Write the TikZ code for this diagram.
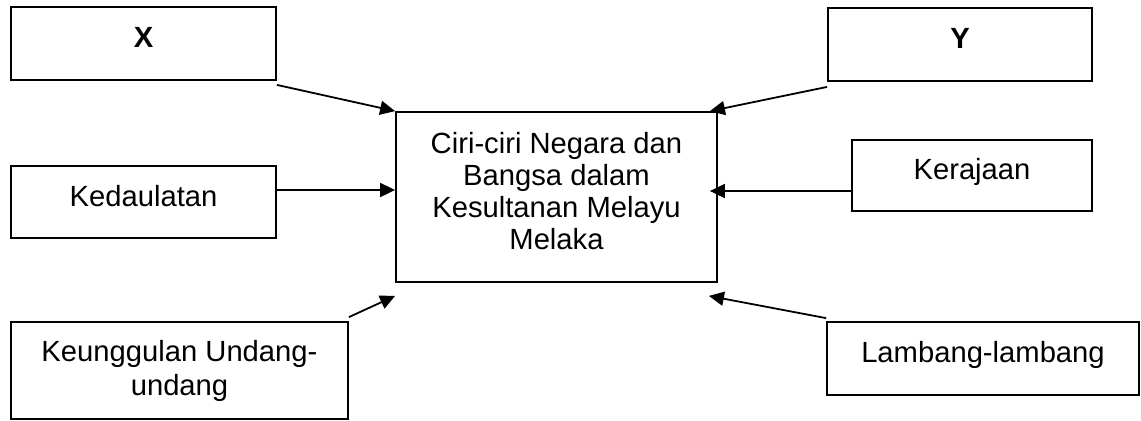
\documentclass[tikz,border=0pt]{standalone}
\usepackage{fontspec}
\setmainfont{Liberation Sans}
\usetikzlibrary{arrows.meta}

\begin{document}
\begin{tikzpicture}[x=0.5pt, y=-0.5pt,
		box/.style={draw, line width=0.9pt, inner sep=0pt, align=center, font=\fontsize{14.6pt}{16pt}\selectfont},
		oneline/.style={text height=10.5pt, text depth=6.5pt},
		bold/.style={font=\fontsize{14.6pt}{16pt}\selectfont\bfseries},
		arr/.style={-{Triangle[length=7.5pt,width=7pt]}, line width=0.9pt}]
			\useasboundingbox (0,0) rectangle (1141,420);
			% middle box
			\node[box, minimum width=160.5pt, minimum height=85pt, text depth=6pt] (ciri) at (556.5,197) {Ciri-ciri Negara dan\\Bangsa dalam\\Kesultanan Melayu\\Melaka};
			% left side
			\node[box, oneline, bold, minimum width=132.5pt, minimum height=36.5pt] (x) at (143.5,43.5) {X};
			\node[box, oneline, minimum width=132.5pt, minimum height=36pt] (kedaulatan) at (143.5,202) {Kedaulatan};
			\node[box, font=\fontsize{14.6pt}{17pt}\selectfont, minimum width=168.5pt, minimum height=48.5pt] (keunggulan) at (179.5,370.5) {Keunggulan Undang-\\undang};
			% right side
			\node[box, oneline, bold, minimum width=132pt, minimum height=36.5pt] (y) at (960,44.5) {Y};
			\node[box, oneline, minimum width=120pt, minimum height=35.5pt] (kerajaan) at (972,175.5) {Kerajaan};
			\node[box, oneline, minimum width=156pt, minimum height=36.5pt] (lambang) at (983,358.5) {Lambang-lambang};
			% arrows
			\draw[arr] ([yshift=-2pt]x.south east) -- (ciri.north west);
			\draw[arr] ([yshift=6pt]kedaulatan.east) -- ([yshift=3.5pt]ciri.west);
			\draw[arr] ([yshift=2pt]keunggulan.north east) -- ([yshift=-6.5pt]ciri.south west);
			\draw[arr] ([yshift=-2.5pt]y.south west) -- ([xshift=-4pt]ciri.north east);
			\draw[arr] ([yshift=-7.75pt]kerajaan.west) -- ([shift={(-4pt,3pt)}]ciri.east);
			\draw[arr] ([yshift=1.5pt]lambang.north west) -- ([shift={(-4.5pt,-6.5pt)}]ciri.south east);
		\end{tikzpicture}
\end{document}
